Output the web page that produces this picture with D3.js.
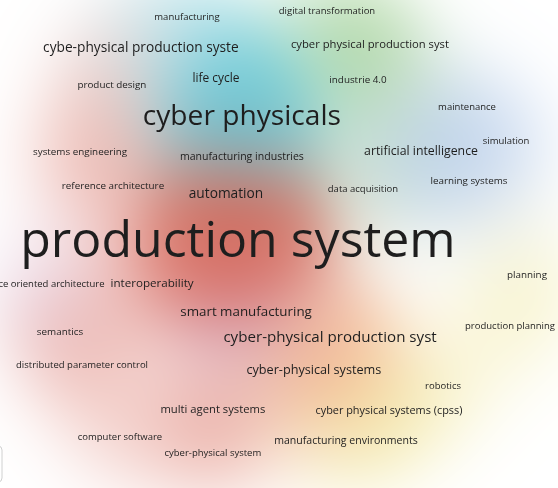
<!DOCTYPE html>
<html><head><meta charset="utf-8">
<script src="https://cdn.jsdelivr.net/npm/d3@7"></script>
<style>
html,body{margin:0;padding:0;background:#fff;overflow:hidden}
#wrap{position:relative;width:558px;height:488px}
#wrap canvas,#wrap svg{position:absolute;left:0;top:0}
</style></head><body><div id="wrap"></div>
<script>
// ---- data (VOSviewer-style map coordinates, weights, clusters) ----
const labels = ["manufacturing","digital transformation","cybe-physical production syste","cyber physical production syst",
 "product design","life cycle","industrie 4.0","cyber physicals","maintenance","simulation","systems engineering",
 "manufacturing industries","artificial intelligence","learning systems","reference architecture","automation",
 "data acquisition","production system","service oriented architecture","interoperability","planning",
 "smart manufacturing","semantics","production planning","cyber-physical production syst","distributed parameter control",
 "cyber-physical systems","robotics","multi agent systems","cyber physical systems (cpss)","computer software",
 "manufacturing environments","cyber-physical system"];
const xs = [-0.330,0.172,-0.495,0.326,-0.599,-0.226,0.283,-0.133,0.674,0.814,-0.713,-0.133,0.509,0.681,-0.595,-0.190,
 0.301,-0.147,-0.853,-0.455,0.889,-0.118,-0.785,0.828,0.183,-0.706,0.125,0.588,-0.237,0.394,-0.570,0.240,-0.237];
const ys = [0.814,0.835,0.706,0.717,0.573,0.595,0.591,0.462,0.491,0.369,0.333,0.312,0.333,0.226,0.208,0.183,
 0.197,0.014,-0.143,-0.140,-0.111,-0.244,-0.315,-0.294,-0.333,-0.434,-0.452,-0.509,-0.591,-0.595,-0.692,-0.706,-0.749];
const weights = [5,5,17,10,6,12,6,58,5,5,6,8,13,6,6,17,5,120,5,11,6,16,6,5,21,5,14,5,10,9,5,8,5];
// 0 red, 1 green, 2 blue, 3 yellow, 4 purple, 5 cyan, 6 orange, 7 pale
const clusters = [5,1,7,1,0,5,1,5,2,2,0,5,2,2,0,0,1,0,4,0,3,4,0,3,6,0,6,3,0,3,0,3,0];
const clusterColors = ["#d24a36","#62b04a","#8aadde","#e8da60","#b89ce4","#3dbbcf","#ef9460","#d8e8ee"];

const W = 558, H = 488;
const x = d3.scaleLinear().domain([-1, 1]).range([0, W]);
const y = d3.scaleLinear().domain([244/279, -244/279]).range([0, H]);
const fontSize = d3.scaleLinear().domain([5, 120]).range([9.5, 50]);
const amp = d3.scalePow().exponent(0.8).domain([0, 1]).range([0, 1]);

const items = labels.map((l, i) => ({label: l, px: x(xs[i]), py: y(ys[i]), w: weights[i], c: clusters[i]}));

// ---- density background ----
const canvas = d3.select("#wrap").append("canvas").attr("width", W).attr("height", H).node();
const ctx = canvas.getContext("2d");
const img = ctx.createImageData(W, H);
const cols = clusterColors.map(c => d3.rgb(c));
const sigma = 52, k = 15, p = 1.5, amax = 0.92;
const nC = cols.length;
const D = new Float64Array(nC);
for (let py = 0; py < H; py++) {
  for (let px = 0; px < W; px++) {
    D.fill(0);
    for (const it of items) {
      const dx = px - it.px, dy = py - it.py;
      const d2 = dx*dx + dy*dy;
      if (d2 > 120000) continue;
      D[it.c] += amp(it.w) * Math.exp(-d2 / (2*sigma*sigma));
    }
    let T = 0, r = 0, g = 0, b = 0;
    for (let c = 0; c < nC; c++) { T += D[c]; r += D[c]*cols[c].r; g += D[c]*cols[c].g; b += D[c]*cols[c].b; }
    const idx = (py*W + px)*4;
    if (T > 1e-6) {
      r /= T; g /= T; b /= T;
      const a = amax / (1 + Math.pow(k / T, p));
      img.data[idx] = 255*(1-a) + r*a;
      img.data[idx+1] = 255*(1-a) + g*a;
      img.data[idx+2] = 255*(1-a) + b*a;
    } else { img.data[idx] = img.data[idx+1] = img.data[idx+2] = 255; }
    img.data[idx+3] = 255;
  }
}
ctx.putImageData(img, 0, 0);

// ---- labels ----
const svg = d3.select("#wrap").append("svg").attr("width", W).attr("height", H);
svg.append("rect").attr("x", -8).attr("y", 446).attr("width", 10).attr("height", 36)
  .attr("rx", 4).attr("fill", "#fff").attr("stroke", "#d0d0d0");
svg.selectAll("text.lbl").data(items).join("text").attr("class", "lbl")
  .attr("x", d => d.px).attr("y", d => d.py).attr("dy", "-0.05em")
  .attr("text-anchor", "middle").attr("dominant-baseline", "central")
  .attr("font-family", "'Open Sans', sans-serif")
  .attr("font-size", d => fontSize(d.w))
  .attr("fill", "#1e1e1e")
  .text(d => d.label);
</script></body></html>
